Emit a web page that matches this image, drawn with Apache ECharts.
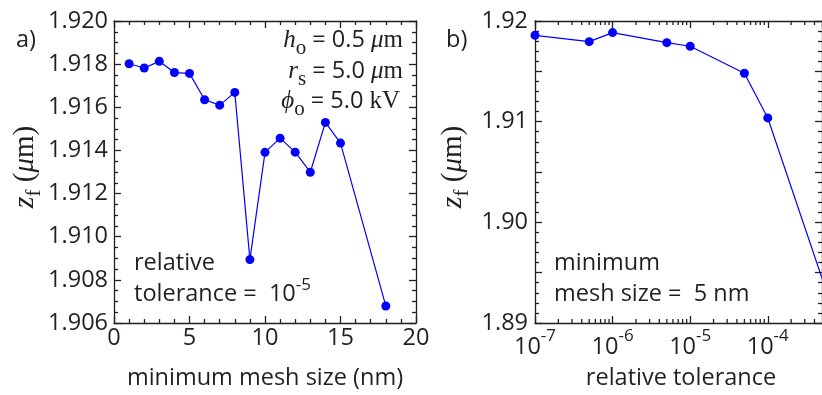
<!DOCTYPE html>
<html>
<head>
<meta charset="utf-8">
<script src="https://cdn.jsdelivr.net/npm/echarts@6/dist/echarts.min.js"></script>
<style>
  html, body { margin: 0; padding: 0; background: #ffffff; }
  #chart { width: 822px; height: 395px; }
</style>
</head>
<body>
<div id="chart"></div>
<script>
// (a) focus position z_f versus minimum mesh size, relative tolerance 1e-5
const meshSize = [1, 2, 3, 4, 5, 6, 7, 8, 9, 10, 11, 12, 13, 14, 15, 18];
const zfByMesh = [1.91802, 1.91782, 1.91813, 1.91761, 1.91757, 1.91635, 1.91610, 1.91669,
                  1.90894, 1.91391, 1.91457, 1.91392, 1.91299, 1.91530, 1.91434, 1.90679];

// (b) focus position z_f versus relative tolerance, minimum mesh size 5 nm
const relTol = [1e-7, 5e-7, 1e-6, 5e-6, 1e-5, 5e-5, 1e-4, 1e-3];
const zfByTol = [1.91858, 1.91795, 1.91885, 1.91785, 1.91749, 1.91481, 1.91037, 1.88760];

// axis ranges
const meshRange = [0, 20];
const meshStep = 5;
const zfRangeA = [1.906, 1.920];
const zfStepA = 0.002;
const tolRange = [1e-7, 5e-4];
const tolDecades = [-7, -6, -5, -4];
const zfRangeB = [1.89, 1.92];
const zfStepB = 0.005;

const INK = '#231F20';
const BLUE = '#0000FF';
const SANS = '"Open Sans", sans-serif';
const SERIF = '"Liberation Serif", "DejaVu Serif", serif';
const FS = 23.5;   // body text size
// offset of the canvas "middle" baseline above the alphabetic baseline, per em
const MID = { sans: 0.388, serif: 0.3375 };

// minor ticks of the log axis: 2..9 times each decade
const tolMinor = [];
tolDecades.forEach(function (e) {
  for (let m = 2; m <= 9; m++) {
    const v = m * Math.pow(10, e);
    if (v < tolRange[1] * 0.999) tolMinor.push(v);
  }
});

// ---------- mixed-font text runs ----------
const mctx = document.createElement('canvas').getContext('2d');
function fontStr(p) {
  return (p.italic ? 'italic ' : '') + p.size + 'px ' + (p.serif ? SERIF : SANS);
}
function R(text, size, opts) { return Object.assign({ text: text, size: size }, opts || {}); }
function layout(parts, x0, base, align) {
  let total = 0;
  parts.forEach(function (p) { mctx.font = fontStr(p); p.w = mctx.measureText(p.text).width; total += p.w; });
  let x = align === 'right' ? x0 - total : (align === 'center' ? x0 - total / 2 : x0);
  return parts.map(function (p) {
    const mid = p.serif ? MID.serif : MID.sans;
    const el = {
      type: 'text', x: x, y: base + (p.dy || 0) - mid * p.size, silent: true,
      style: { text: p.text, font: fontStr(p), fill: INK, align: 'left', verticalAlign: 'middle' }
    };
    x += p.w;
    return el;
  });
}
function zfTitle(cx, cy) {
  return {
    type: 'group', x: cx, y: cy, rotation: Math.PI / 2,
    children: layout([
      R('z', 30, { serif: true, italic: true }),
      R('f', 21, { serif: true, dy: 7 }),
      R(' (', 29, { serif: true }),
      R('\u03bc', 29, { serif: true, italic: true }),
      R('m)', 29, { serif: true })
    ], 0, 0, 'center')
  };
}

const graphics = [].concat(
  layout([R('a)', FS)], 16, 49, 'left'),
  layout([R('b)', FS)], 446, 49, 'left'),
  layout([R('h', 25, { serif: true, italic: true }), R('o', 21, { serif: true, dy: 7 }),
          R(' = 0.5 ', FS), R('\u03bc', 25, { serif: true, italic: true }), R('m', 25, { serif: true })], 403, 49, 'right'),
  layout([R('r', 25, { serif: true, italic: true }), R('s', 21, { serif: true, dy: 7 }),
          R(' = 5.0 ', FS), R('\u03bc', 25, { serif: true, italic: true }), R('m', 25, { serif: true })], 403, 80, 'right'),
  layout([R('\u03d5', 25, { serif: true, italic: true }), R('o', 21, { serif: true, dy: 7 }),
          R(' = 5.0 ', FS), R('kV', 25, { serif: true })], 400, 110, 'right'),
  layout([R('relative', FS)], 134, 272, 'left'),
  layout([R('tolerance =  10', FS), R('-5', 17, { dy: -11 })], 134, 303, 'left'),
  layout([R('minimum', FS)], 554, 272, 'left'),
  layout([R('mesh size =  5 nm', FS)], 554, 303, 'left'),
  layout([R('minimum mesh size (nm)', FS)], 265, 387, 'center'),
  layout([R('relative tolerance', FS)], 681, 387, 'center'),
  [zfTitle(35, 167), zfTitle(463, 167)]
);

// ---------- axes ----------
const lineStyle = { color: INK, width: 1.3 };
const majorTick = { show: true, inside: true, length: 7, lineStyle: lineStyle };
const labelFont = { color: INK, fontFamily: SANS, fontSize: FS };

function frameAxis(base, extra) {
  return Object.assign({
    axisLine: { show: true, onZero: false, lineStyle: lineStyle },
    axisTick: majorTick,
    splitLine: { show: false }
  }, base, extra);
}

const isDecade = function (v) {
  const e = Math.log10(v);
  return Math.abs(e - Math.round(e)) < 1e-6;
};

const xAxes = [
  frameAxis({ gridIndex: 0, type: 'value', position: 'bottom', min: meshRange[0], max: meshRange[1], interval: meshStep,
    minorTick: { show: true, splitNumber: 5, length: 4, lineStyle: lineStyle },
    axisLabel: Object.assign({ margin: 3, showMinLabel: true, showMaxLabel: true }, labelFont) }),
  frameAxis({ gridIndex: 0, type: 'value', position: 'top', min: meshRange[0], max: meshRange[1], interval: meshStep,
    minorTick: { show: true, splitNumber: 5, length: 4, lineStyle: lineStyle },
    axisLabel: { show: false } }),
  frameAxis({ gridIndex: 1, type: 'log', logBase: 10, position: 'bottom', min: tolRange[0], max: tolRange[1],
    axisTick: Object.assign({}, majorTick, { interval: 0 }),
    axisLabel: {
      margin: 5, interval: 0, showMinLabel: true, showMaxLabel: false,
      formatter: function (v) {
        if (!isDecade(v) || v > tolRange[1]) return '';
        return '{b|10}{s|' + Math.round(Math.log10(v)) + '}';
      },
      rich: {
        b: { color: INK, fontFamily: SANS, fontSize: FS, lineHeight: 31, verticalAlign: 'bottom' },
        s: { color: INK, fontFamily: SANS, fontSize: 17, lineHeight: 17, verticalAlign: 'top' }
      }
    } }),
  frameAxis({ gridIndex: 1, type: 'log', logBase: 10, position: 'top', min: tolRange[0], max: tolRange[1],
    axisTick: Object.assign({}, majorTick, { interval: 0 }),
    axisLabel: { show: false } })
];

const yAxes = [
  frameAxis({ gridIndex: 0, type: 'value', position: 'left', min: zfRangeA[0], max: zfRangeA[1], interval: zfStepA,
    minorTick: { show: true, splitNumber: 4, length: 4, lineStyle: lineStyle },
    axisLabel: Object.assign({ margin: 6, showMinLabel: true, showMaxLabel: true,
      formatter: function (v) { return v.toFixed(3); } }, labelFont) }),
  frameAxis({ gridIndex: 0, type: 'value', position: 'right', min: zfRangeA[0], max: zfRangeA[1], interval: zfStepA,
    minorTick: { show: true, splitNumber: 4, length: 4, lineStyle: lineStyle },
    axisLabel: { show: false } }),
  frameAxis({ gridIndex: 1, type: 'value', position: 'left', min: zfRangeB[0], max: zfRangeB[1], interval: zfStepB,
    minorTick: { show: true, splitNumber: 5, length: 4, lineStyle: lineStyle },
    axisLabel: Object.assign({ margin: 7, showMinLabel: true, showMaxLabel: true,
      formatter: function (v) {
        const c = v * 100;
        return Math.abs(c - Math.round(c)) < 1e-6 ? v.toFixed(2) : '';
      } }, labelFont) }),
  frameAxis({ gridIndex: 1, type: 'value', position: 'right', min: zfRangeB[0], max: zfRangeB[1], interval: zfStepB,
    minorTick: { show: true, splitNumber: 5, length: 4, lineStyle: lineStyle },
    axisLabel: { show: false } })
];

const markerStyle = {
  type: 'line', symbol: 'circle', symbolSize: 9, showSymbol: true, clip: true,
  lineStyle: { color: BLUE, width: 1.2 }, itemStyle: { color: BLUE }, animation: false, z: 5
};

const option = {
  animation: false,
  backgroundColor: '#ffffff',
  grid: [
    { left: 114, top: 21, width: 302, height: 302, containLabel: false },
    { left: 535, top: 21, width: 292, height: 302, containLabel: false }
  ],
  xAxis: xAxes,
  yAxis: yAxes,
  series: [
    Object.assign({}, markerStyle, { xAxisIndex: 0, yAxisIndex: 0,
      data: meshSize.map(function (x, i) { return [x, zfByMesh[i]]; }) }),
    Object.assign({}, markerStyle, { xAxisIndex: 2, yAxisIndex: 2,
      data: relTol.map(function (x, i) { return [x, zfByTol[i]]; }) }),
    {
      // minor ticks of the logarithmic tolerance axis, bottom and top edges
      type: 'custom', xAxisIndex: 2, yAxisIndex: 2, silent: true, z: 4, clip: false,
      data: tolMinor.map(function (v) { return [v, zfRangeB[0]]; }),
      renderItem: function (params, api) {
        const b = api.coord([api.value(0), zfRangeB[0]]);
        const t = api.coord([api.value(0), zfRangeB[1]]);
        return {
          type: 'group', children: [
            { type: 'line', shape: { x1: b[0], y1: b[1], x2: b[0], y2: b[1] - 4 }, style: { stroke: INK, lineWidth: 1.3 } },
            { type: 'line', shape: { x1: t[0], y1: t[1], x2: t[0], y2: t[1] + 4 }, style: { stroke: INK, lineWidth: 1.3 } }
          ]
        };
      }
    }
  ],
  graphic: graphics
};

const chart = echarts.init(document.getElementById('chart'), null, { renderer: 'canvas' });
chart.setOption(option);
</script>
</body>
</html>
